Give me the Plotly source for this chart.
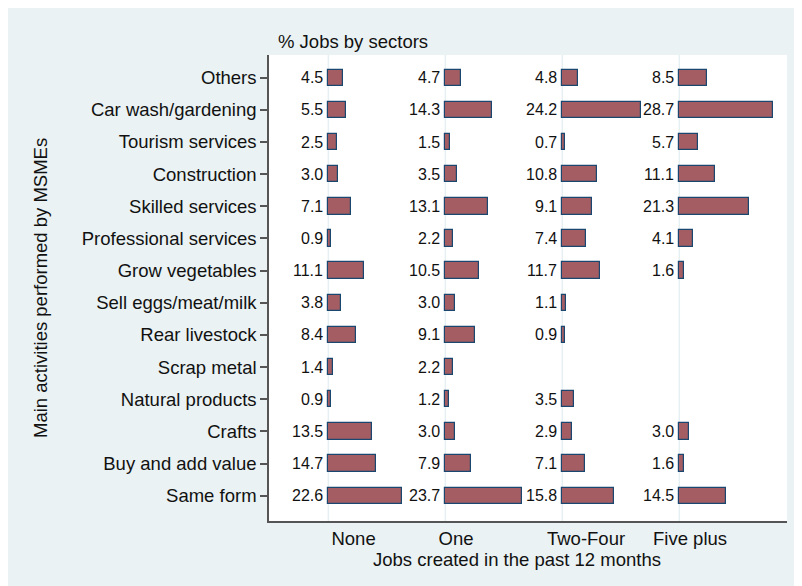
import plotly.graph_objects as go

categories = ["Others", "Car wash/gardening", "Tourism services", "Construction",
              "Skilled services", "Professional services", "Grow vegetables",
              "Sell eggs/meat/milk", "Rear livestock", "Scrap metal",
              "Natural products", "Crafts", "Buy and add value", "Same form"]
groups = ["None", "One", "Two-Four", "Five plus"]
none_vals = [4.5, 5.5, 2.5, 3.0, 7.1, 0.9, 11.1, 3.8, 8.4, 1.4, 0.9, 13.5, 14.7, 22.6]
one_vals = [4.7, 14.3, 1.5, 3.5, 13.1, 2.2, 10.5, 3.0, 9.1, 2.2, 1.2, 3.0, 7.9, 23.7]
twofour_vals = [4.8, 24.2, 0.7, 10.8, 9.1, 7.4, 11.7, 1.1, 0.9, None, 3.5, 2.9, 7.1, 15.8]
fiveplus_vals = [8.5, 28.7, 5.7, 11.1, 21.3, 4.1, 1.6, None, None, None, None, 3.0, 1.6, 14.5]
series = [none_vals, one_vals, twofour_vals, fiveplus_vals]

# layout constants (panel offsets on the shared x scale)
panel_offsets = [0, 36, 72, 108]
group_tick_pos = [7.75, 39.3, 79.3, 111.3]

# the page places the figure 8px from the top-left corner
OFF = 8
W, H = 802 - OFF, 586 - OFF
L, R, T, B = 269 - OFF, 802 - 787, 55 - OFF, 586 - 521
pw, ph = W - L - R, H - T - B

FONT = "Liberation Sans, Arial, sans-serif"
BG = "#EAF2F3"
BAR = "#A45E63"
EDGE = "#1A476F"
TXT = "#111111"

fig = go.Figure()
ypos = list(range(len(categories)))
annotations = []

for vals, off in zip(series, panel_offsets):
    ys = [y for y, v in zip(ypos, vals) if v is not None]
    xs = [v for v in vals if v is not None]
    fig.add_trace(go.Bar(
        y=ys, x=xs, base=[off] * len(xs), orientation="h", width=0.51,
        marker=dict(color=BAR, line=dict(color=EDGE, width=1.2)),
        showlegend=False, hoverinfo="skip"))
    for y, v in zip(ys, xs):
        annotations.append(dict(
            x=off, y=y, xref="x", yref="y", text=f"{v:.1f}", showarrow=False,
            xanchor="right", yanchor="middle", xshift=-3,
            font=dict(family=FONT, size=16, color=TXT)))

def px_x(p):
    return (p - OFF - L) / pw

def px_y(p):
    return (H - B - (p - OFF)) / ph

shapes = []
for off in panel_offsets:
    shapes.append(dict(type="line", xref="x", yref="paper", x0=off, x1=off, y0=0, y1=1,
                       line=dict(color="#E6EFF2", width=1.5), layer="below"))

annotations += [
    dict(text="% Jobs by sectors", xref="paper", yref="paper", x=px_x(276), y=px_y(41),
         xanchor="left", yanchor="middle", showarrow=False,
         font=dict(size=18.5, family=FONT, color=TXT)),
    dict(text="Jobs created in the past 12 months", xref="paper", yref="paper",
         x=px_x(517), y=px_y(559), xanchor="center", yanchor="middle", showarrow=False,
         font=dict(size=18.5, family=FONT, color=TXT)),
    dict(text="Main activities performed by MSMEs", xref="paper", yref="paper",
         x=px_x(40), y=px_y(288), xanchor="center", yanchor="middle", showarrow=False,
         textangle=-90, font=dict(size=18.5, family=FONT, color=TXT)),
]

fig.update_layout(
    width=W, height=H,
    margin=dict(l=L, r=R, t=T, b=B, pad=0),
    paper_bgcolor=BG, plot_bgcolor="white",
    font=dict(family=FONT, color=TXT),
    bargap=0, barmode="overlay",
    shapes=shapes,
    annotations=annotations,
    xaxis=dict(range=[-18.28, 141.15], tickvals=group_tick_pos, ticktext=groups,
               showgrid=False, zeroline=False, showline=True, linecolor="#555555",
               linewidth=1.5, ticks="", tickfont=dict(size=18.5, family=FONT, color=TXT),
               ticklabelstandoff=0),
    yaxis=dict(range=[13.787, -0.706], tickvals=ypos, ticktext=categories,
               showgrid=False, zeroline=False, showline=True, linecolor="#555555",
               linewidth=1.5, ticks="outside", ticklen=7, tickcolor="#555555", tickwidth=1.5,
               tickfont=dict(size=18.5, family=FONT, color=TXT)),
)

fig.write_html("out.html")
